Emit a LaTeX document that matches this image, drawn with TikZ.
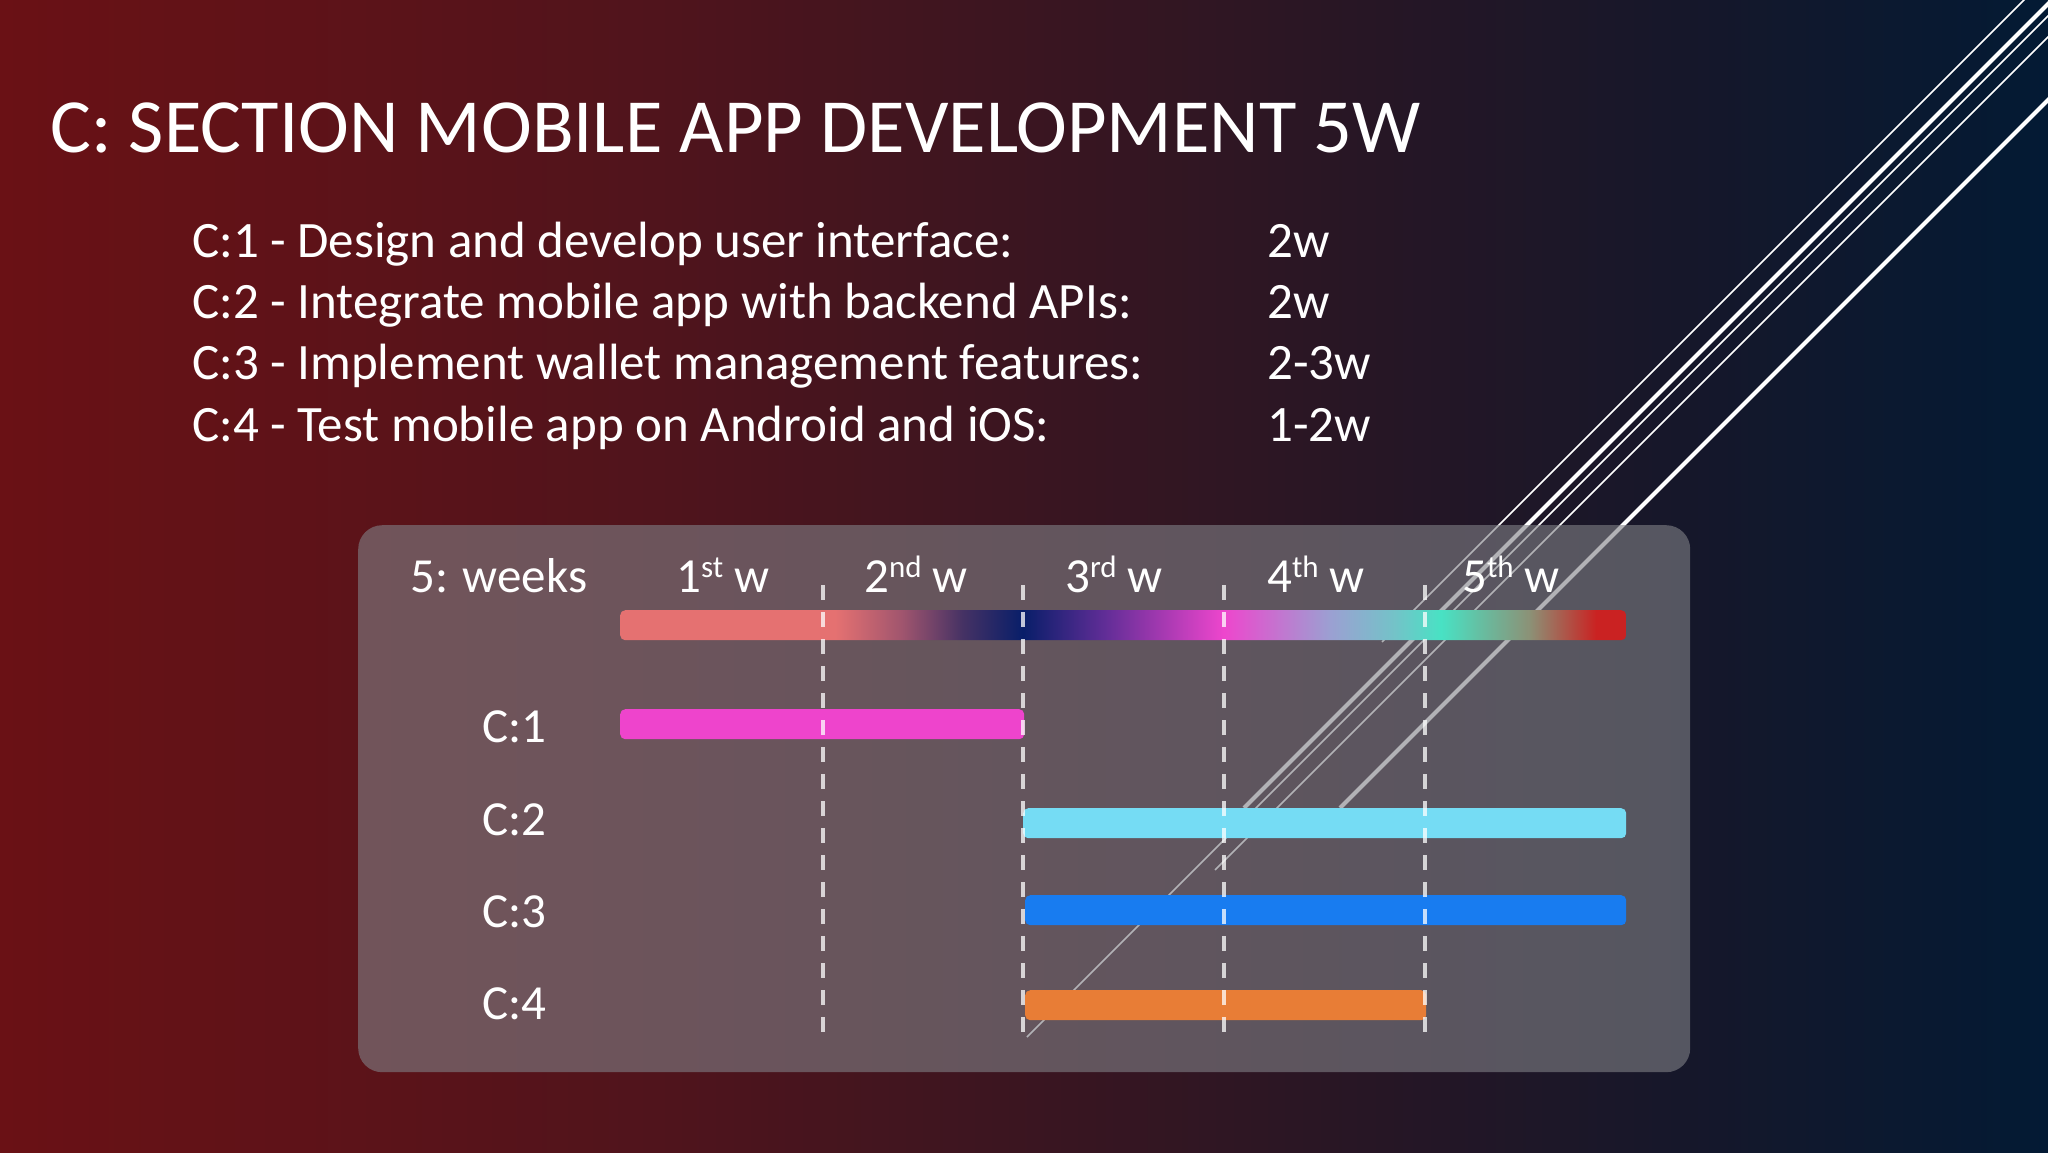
\documentclass[tikz,border=0pt]{standalone}
\usepackage{fontspec}
\setmainfont{Carlito}
\definecolor{bgA}{RGB}{106,17,21}
\definecolor{bgB}{RGB}{80,20,28}
\definecolor{bgC}{RGB}{42,22,36}
\definecolor{bgD}{RGB}{22,23,42}
\definecolor{bgE}{RGB}{3,26,52}
\definecolor{panelfill}{RGB}{128,128,134}
\definecolor{gSalmon}{RGB}{229,113,113}
\definecolor{gMauve}{RGB}{160,85,110}
\definecolor{gDusk}{RGB}{70,50,100}
\definecolor{gNavy}{RGB}{8,30,105}
\definecolor{gPurple}{RGB}{95,45,150}
\definecolor{gMagenta}{RGB}{238,70,205}
\definecolor{gLav}{RGB}{155,160,210}
\definecolor{gTeal}{RGB}{115,195,200}
\definecolor{gAqua}{RGB}{72,226,196}
\definecolor{gGrayGreen}{RGB}{140,145,118}
\definecolor{gRed}{RGB}{202,34,34}
\definecolor{cOne}{RGB}{238,68,204}
\definecolor{cTwo}{RGB}{117,220,244}
\definecolor{cThree}{RGB}{24,124,240}
\definecolor{cFour}{RGB}{232,125,54}
\pgfdeclarehorizontalshading{bgshade}{100bp}{color(0bp)=(bgA); color(25bp)=(bgA); color(41bp)=(bgB); color(57bp)=(bgC); color(66bp)=(bgD); color(75bp)=(bgE); color(100bp)=(bgE)}
\pgfdeclarehorizontalshading{ganttshade}{100bp}{color(0bp)=(gSalmon); color(25bp)=(gSalmon); color(35.7bp)=(gSalmon); color(39bp)=(gMauve); color(42bp)=(gDusk); color(45bp)=(gNavy); color(49bp)=(gPurple); color(55bp)=(gMagenta); color(60.3bp)=(gLav); color(63.5bp)=(gTeal); color(65.8bp)=(gAqua); color(70.2bp)=(gGrayGreen); color(73.5bp)=(gRed); color(75bp)=(gRed); color(100bp)=(gRed)}
\newcommand{\wkSup}[1]{\raisebox{15pt}{\fontsize{31}{31}\selectfont #1}}
\begin{document}
\begin{tikzpicture}[x=1pt,y=-1pt,
  txt/.style={text=white, inner sep=0pt, anchor=base west, font=\fontsize{49}{59}\selectfont},
  tasktxt/.style={txt, font=\fontsize{51}{61}\selectfont},
  titletxt/.style={text=white, inner sep=0pt, anchor=base west, font=\fontsize{76.6}{92}\selectfont},
  bar/.style={inner sep=0pt, anchor=north west, rounded corners=5pt, minimum height=30pt},
  gridline/.style={draw=white, draw opacity=0.75, line width=3.2pt, dash pattern=on 15pt off 12pt},
  decothin/.style={draw=white, line width=1.5pt},
  decothick/.style={draw=white, line width=4pt}]
\useasboundingbox (0,0) rectangle (2048,1152);
\shade[shading=bgshade] (0,0) rectangle (2048,1152);
% decorative diagonal lines
\begin{scope}
\clip (0,0) rectangle (2048,1152);
\coordinate (a1) at (2034,-10); \coordinate (a2) at (1382,642);
\coordinate (b1) at (2062,-10); \coordinate (b2) at (1244,808);
\coordinate (c1) at (2074,-10); \coordinate (c2) at (1027,1037);
\coordinate (d1) at (2095,-10); \coordinate (d2) at (1215,870);
\coordinate (e1) at (2158,-10); \coordinate (e2) at (1340,808);
\draw[decothin] (a1) -- (a2);
\draw[decothick] (b1) -- (b2);
\draw[decothin] (c1) -- (c2);
\draw[decothin] (d1) -- (d2);
\draw[decothick] (e1) -- (e2);
\end{scope}
% title and task list
\node[titletxt] (title) at (50,152) {C: SECTION MOBILE APP DEVELOPMENT 5W};
\node[tasktxt] (t1) at (192,257) {C:1 - Design and develop user interface:};
\node[tasktxt] (t2) at (192,318) {C:2 - Integrate mobile app with backend APIs:};
\node[tasktxt] (t3) at (192,379) {C:3 - Implement wallet management features:};
\node[tasktxt] (t4) at (192,441) {C:4 - Test mobile app on Android and iOS:};
\node[tasktxt] (d1n) at (1267,257) {2w};
\node[tasktxt] (d2n) at (1267,318) {2w};
\node[tasktxt] (d3n) at (1267,379) {2-3w};
\node[tasktxt] (d4n) at (1267,441) {1-2w};
% panel
\node[fill=panelfill, fill opacity=0.6, rounded corners=24pt, minimum width=1332pt, minimum height=547pt, anchor=north west, inner sep=0pt] (panel) at (358,525) {};
% header
\node[txt] (hw) at (410,592) {5: weeks};
\node[txt] (h1) at (676,592) {1\wkSup{st} w};
\node[txt] (h2) at (864,592) {2\wkSup{nd} w};
\node[txt] (h3) at (1065,592) {3\wkSup{rd} w};
\node[txt] (h4) at (1267,592) {4\wkSup{th} w};
\node[txt] (h5) at (1462,592) {5\wkSup{th} w};
\node[bar, minimum width=1006pt, shade, shading=ganttshade] (scalebar) at (620,610) {};
% rows
\node[txt] (r1) at (482,742) {C:1};
\node[txt] (r2) at (482,835) {C:2};
\node[txt] (r3) at (482,927) {C:3};
\node[txt] (r4) at (482,1019) {C:4};
\node[bar, fill=cOne, minimum width=404pt] (b1n) at (620,709) {};
\node[bar, fill=cTwo, minimum width=603pt] (b2n) at (1023,808) {};
\node[bar, fill=cThree, minimum width=601pt] (b3n) at (1025,895) {};
\node[bar, fill=cFour, minimum width=401pt] (b4n) at (1025,990) {};
% week dividers
\foreach \x/\n in {823/1,1023/2,1224/3,1425/4}{
  \coordinate (g\n t) at (\x,585);
  \coordinate (g\n b) at (\x,1040);
  \draw[gridline] (g\n t) -- (g\n b);
}
\end{tikzpicture}
\end{document}
